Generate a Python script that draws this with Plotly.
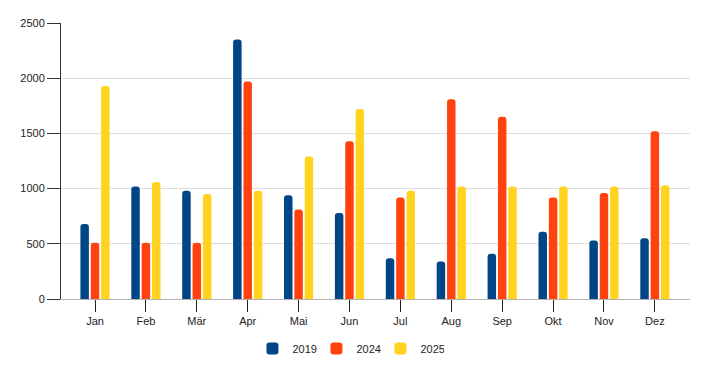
import plotly.graph_objects as go

months = ["Jan", "Feb", "Mär", "Apr", "Mai", "Jun", "Jul", "Aug", "Sep", "Okt", "Nov", "Dez"]
v2019 = [680, 1020, 980, 2350, 940, 780, 370, 340, 410, 610, 530, 550]
v2024 = [510, 510, 510, 1970, 810, 1430, 920, 1810, 1650, 920, 960, 1520]
v2025 = [1930, 1060, 950, 980, 1290, 1720, 980, 1020, 1020, 1020, 1020, 1030]
years = ["2019", "2024", "2025"]
colors = ["#004586", "#ff420e", "#ffd320"]

fig = go.Figure()
for name, vals, col in zip(years, [v2019, v2024, v2025], colors):
    fig.add_trace(go.Bar(x=months, y=vals, name=name, marker_color=col,
                         marker_line_width=0))

fig.update_layout(
    width=698, height=364,
    margin=dict(l=53, r=16, t=15, b=73, autoexpand=False),
    paper_bgcolor="white", plot_bgcolor="white",
    barmode="group", bargap=0.39, bargroupgap=0.18,
    barcornerradius=3,
    font=dict(family="Liberation Sans, Arial, sans-serif", size=11, color="#222"),
    legend=dict(orientation="h", x=0.457, xanchor="center", y=-0.127, yanchor="top",
                font=dict(size=11), entrywidth=19, entrywidthmode="pixels",
                tracegroupgap=0),
    showlegend=True,
)
fig.update_xaxes(
    range=[-0.668, 11.69], showline=True, linecolor="#b3b3b3", linewidth=1,
    ticks="outside", ticklen=12, tickcolor="#222", showgrid=False, automargin=False,
)
fig.update_yaxes(
    range=[0, 2500], tickvals=[0, 500, 1000, 1500, 2000, 2500],
    showline=True, linecolor="#333", linewidth=1,
    ticks="outside", ticklen=13, tickcolor="#333", automargin=False,
    showgrid=True, gridcolor="#dddddd", gridwidth=1, zeroline=False,
)
fig.write_html("out.html")
